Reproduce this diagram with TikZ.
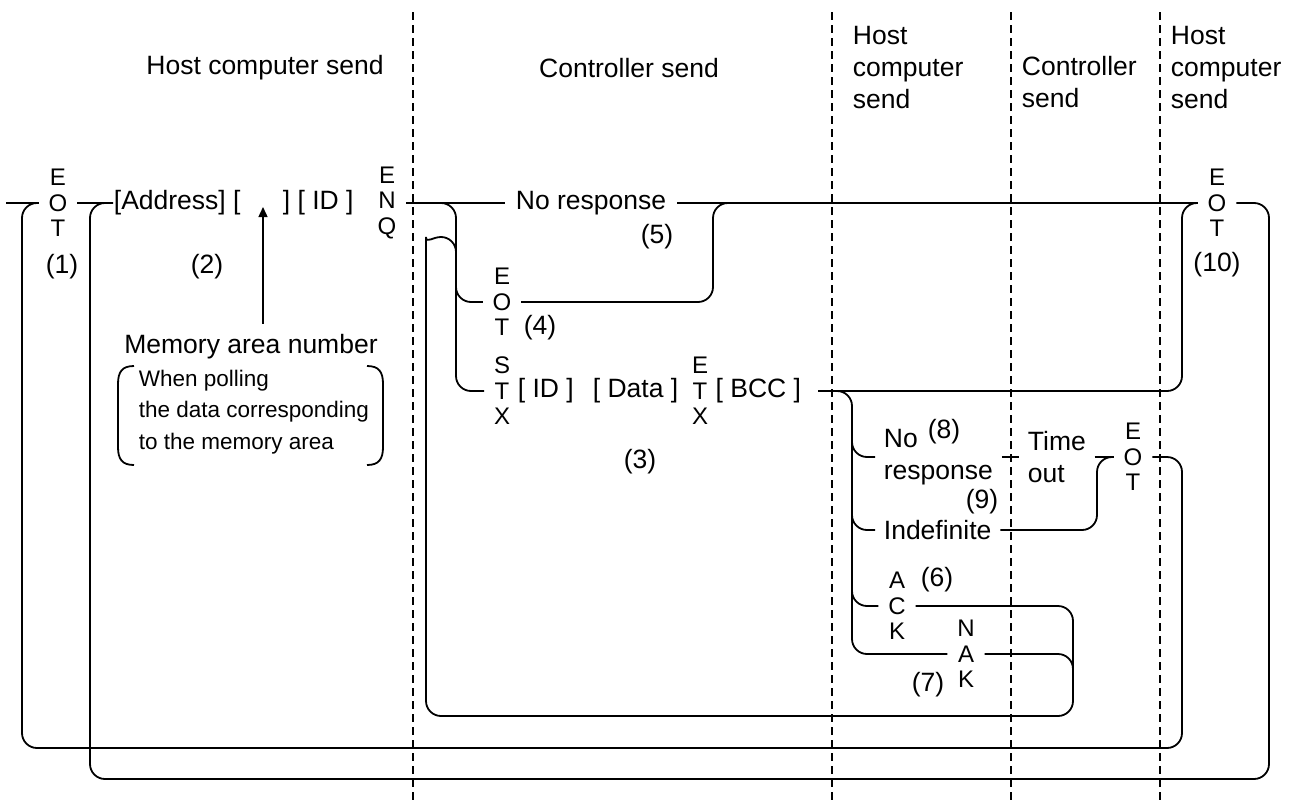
\documentclass[tikz,border=0pt]{standalone}
\usepackage{fontspec}
\setmainfont{Liberation Sans}
\usetikzlibrary{arrows.meta}
\newcommand\vst[3]{#1\\#2\\#3}
\begin{document}
\begin{tikzpicture}[x=0.5pt,y=-0.5pt,line width=0.9pt,
  txt/.style={font=\fontsize{13.25}{16}\selectfont, inner xsep=4pt, inner ysep=1pt},
  small/.style={font=\fontsize{11.25}{15.75}\selectfont, align=left, inner sep=0pt},
  vstack/.style={font=\fontsize{12}{12.75}\selectfont, align=center, inner xsep=4.5pt, inner ysep=0pt},
  lbl/.style={font=\fontsize{13.25}{16}\selectfont, inner sep=0pt},
  wire/.style={rounded corners=7.5pt},
  divider/.style={dash pattern=on 4pt off 2.5pt, line width=0.8pt}]
\useasboundingbox (0,0) rectangle (1295,803);
% dividers
\foreach \xx in {413,832,1011,1160} \draw[divider] (\xx,12) -- (\xx,803);
% headers
\node[txt] (h1) at (265,68) {Host computer send};
\node[txt] (h2) at (629,68) {Controller send};
\node[txt, align=left, anchor=west, inner xsep=0pt] (h3) at (852,68) {Host\\computer\\send};
\node[txt, align=left, anchor=west, inner xsep=0pt] (h4) at (1021,82) {Controller\\send};
\node[txt, align=left, anchor=west, inner xsep=0pt] (h5) at (1170,68) {Host\\computer\\send};
% row 1
\coordinate (start) at (6,203);
\node[vstack] (eot1) at (58,203) {\vst{E}{O}{T}};
\node[txt, anchor=west, inner xsep=0pt] (addrA) at (113,203) {[Address] [};
\coordinate (arrtip) at (263,207);
\node[txt, anchor=west, inner xsep=0pt] (addrB) at (282,203) {] [ ID ]};
\node[vstack] (enq) at (387,203) {\vst{E}{N}{Q}};
\node[txt, anchor=west, inner xsep=5pt] (noresp) at (505,203) {No response};
\node[vstack] (eot10) at (1217,203) {\vst{E}{O}{T}};
% labels
\node[lbl] (n1) at (62,267) {(1)};
\node[lbl] (n2) at (207,267) {(2)};
\node[lbl] (n10) at (1217,265) {(10)};
\node[lbl] (n5) at (657,237) {(5)};
\node[lbl] (n4) at (540,328) {(4)};
\node[lbl] (n3) at (640,462) {(3)};
\node[lbl] (n8) at (944,432) {(8)};
\node[lbl] (n9) at (982,502) {(9)};
\node[lbl] (n6) at (937,580) {(6)};
\node[lbl] (n7) at (928,685) {(7)};
% memory area
\node[txt] (mem) at (251,347) {Memory area number};
\node[small, anchor=west] (memnote) at (138,412) {When polling\\the data corresponding\\to the memory area};
\draw (134,366) .. controls (122,366) and (118,372) .. (118,384) -- (118,447) .. controls (118,459) and (122,465) .. (134,465);
\draw (367,366) .. controls (379,366) and (383,372) .. (383,384) -- (383,447) .. controls (383,459) and (379,465) .. (367,465);
\draw[-{Triangle[length=5pt,width=4.5pt]}, line width=0.7pt, shorten <=4pt] (mem.north -| arrtip) -- (arrtip);
% controller rows
\node[vstack] (eot4) at (502,302) {\vst{E}{O}{T}};
\node[vstack] (stx) at (502,391) {\vst{S}{T}{X}};
\node[txt, anchor=west, inner xsep=0pt] (idf) at (517,391) {[ ID ]};
\node[txt, anchor=west, inner xsep=0pt] (data) at (592,391) {[ Data ]};
\node[vstack] (etx) at (700,391) {\vst{E}{T}{X}};
\node[txt, anchor=east, inner xsep=8pt] (bcc) at (818,391) {[ BCC ]};
% host response rows
\node[txt, align=left, anchor=west] (nr8) at (875,457) {No\\response};
\node[txt, align=left, anchor=west] (tout) at (1019,457) {Time\\out};
\node[vstack] (eotT) at (1133,457) {\vst{E}{O}{T}};
\node[txt, anchor=west] (indef) at (875,530) {Indefinite};
\node[vstack] (ack) at (897,606) {\vst{A}{C}{K}};
\node[vstack] (nak) at (966,654) {\vst{N}{A}{K}};
% connectors
\draw (start) -- (eot1.west);
\draw (eot1.east) -- (addrA.west);
\draw (enq.east) -- (noresp.west);
\draw (noresp.east) -- (eot10.west);
\draw[wire] (eotT.east) -- (1182,457) -- (1182,748) -- (22,748) -- (22,203) -- (eot1.west);
\draw[wire] (eot10.east) -- (1269,203) -- (1269,779) -- (90,779) -- (90,203) -- (addrA.west);
\draw[wire] (enq.east) -- (456,203) -- (456,391) -- (stx.west);
\coordinate (c4) at (456,280);
\draw[wire] (c4) -- (456,302) -- (eot4.west);
\coordinate (j5) at (740,203);
\draw[wire] (eot4.east) -- (713,302) -- (713,203) -- (j5);
\draw[wire] (bcc.east) -- (1182,391) -- (1182,203) -- (eot10.west);
\draw[wire] (bcc.east) -- (852,391) -- (852,654) -- (nak.west);
\coordinate (b8) at (852,435);
\draw[wire] (b8) -- (852,457) -- (nr8.west);
\draw (nr8.east) -- (tout.west);
\draw (tout.east) -- (eotT.west);
\coordinate (b9) at (852,510);
\draw[wire] (b9) -- (852,530) -- (indef.west);
\draw[wire] (indef.east) -- (1097,530) -- (1097,457) -- (eotT.west);
\coordinate (b6) at (852,586);
\draw[wire] (b6) -- (852,606) -- (ack.west);
\coordinate (mrg) at (456,268);
\draw[wire] (ack.east) -- (1073,606) -- (1073,716) -- (426,716) -- (426,252) [sharp corners] arc[start angle=180, end angle=0, radius=7.5pt] -- (mrg);
\coordinate (m7) at (1073,690);
\draw[wire] (nak.east) -- (1073,654) -- (m7);
\end{tikzpicture}
\end{document}
